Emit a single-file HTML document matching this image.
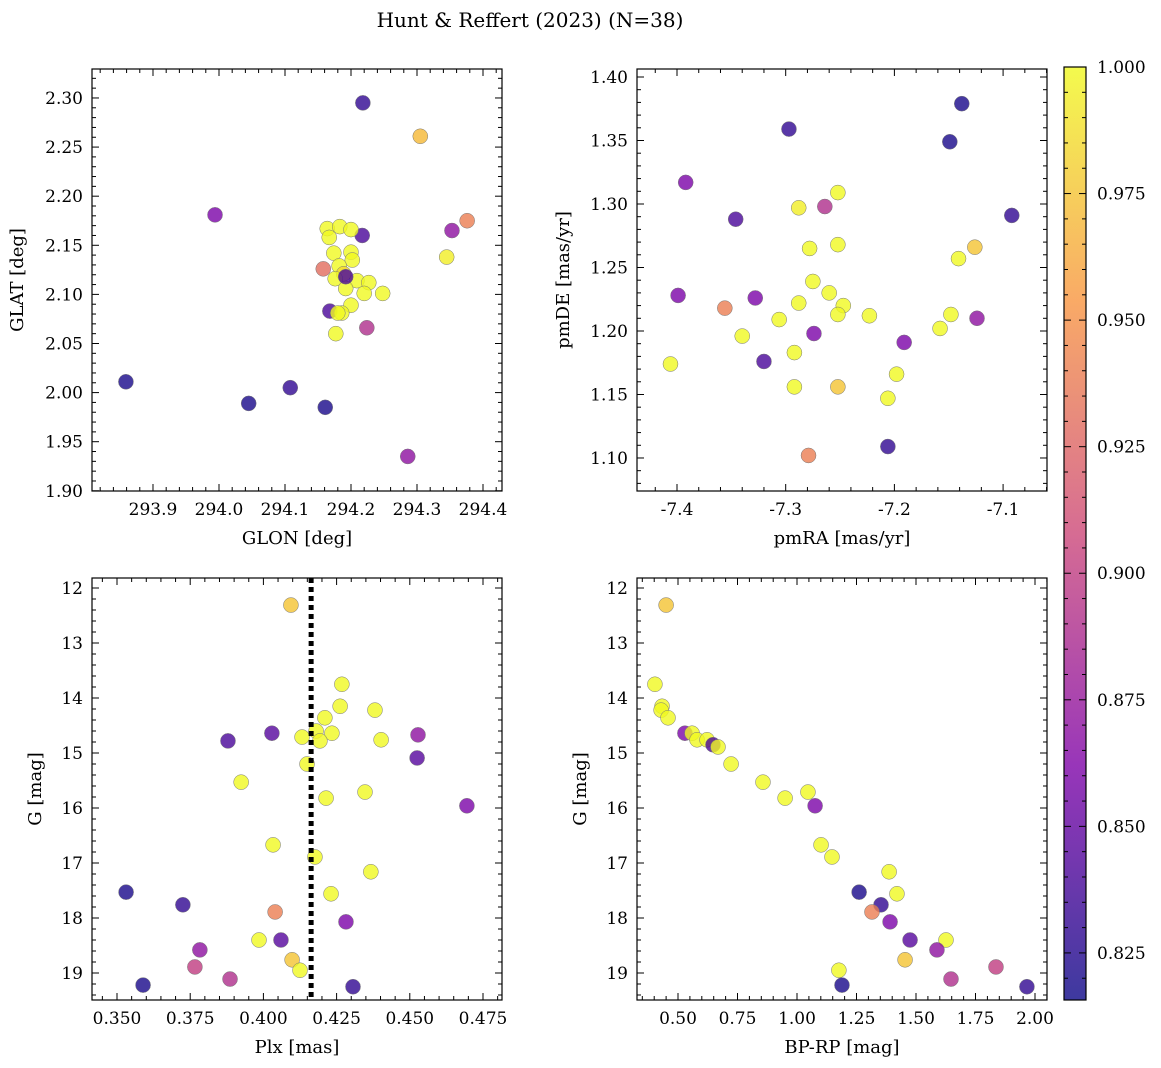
<!DOCTYPE html>
<html><head><meta charset="utf-8">
<style>
html,body{margin:0;padding:0;background:#fff;}
svg{display:block;font-family:"DejaVu Serif","Liberation Serif",serif;}
</style></head>
<body>
<svg id="fig" width="1161" height="1068" viewBox="0 0 1161 1068" xmlns="http://www.w3.org/2000/svg">
<text x="530" y="27" text-anchor="middle" font-size="20">Hunt &amp; Reffert (2023) (N=38)</text>
</svg>
<script>
// Panel 1: GLON vs GLAT
const glon1=[293.859,293.994,294.045,294.108,294.161,294.218,294.305,294.376,294.353,294.345,294.286,294.224,294.217,294.158,294.168,294.164,294.167,294.183,294.200,294.174,294.200,294.202,294.182,294.189,294.176,294.209,294.192,294.227,294.248,294.220,294.200,294.186,294.180,294.177,294.192];
const glat1=[2.011,2.181,1.989,2.005,1.985,2.295,2.261,2.175,2.165,2.138,1.935,2.066,2.160,2.126,2.083,2.167,2.158,2.169,2.166,2.142,2.143,2.135,2.129,2.121,2.116,2.114,2.106,2.112,2.101,2.101,2.089,2.081,2.081,2.060,2.118];
const prob1=[0.82,0.86,0.82,0.83,0.82,0.83,0.97,0.94,0.87,0.995,0.87,0.89,0.84,0.93,0.84,1,1,1,1,1,1,1,1,0.985,1,1,1,1,1,1,1,1,1,1,0.84];
// Panel 2: pmRA vs pmDE
const pmra2=[-7.138,-7.149,-7.092,-7.297,-7.392,-7.346,-7.264,-7.252,-7.288,-7.126,-7.141,-7.278,-7.252,-7.275,-7.399,-7.260,-7.247,-7.252,-7.288,-7.223,-7.356,-7.328,-7.148,-7.158,-7.124,-7.306,-7.340,-7.274,-7.191,-7.320,-7.406,-7.292,-7.198,-7.292,-7.252,-7.206,-7.206,-7.279];
const pmde2=[1.379,1.349,1.291,1.359,1.317,1.288,1.298,1.309,1.297,1.266,1.257,1.265,1.268,1.239,1.228,1.230,1.220,1.213,1.222,1.212,1.218,1.226,1.213,1.202,1.210,1.209,1.196,1.198,1.191,1.176,1.174,1.183,1.166,1.156,1.156,1.147,1.109,1.102];
const prob2=[0.82,0.82,0.83,0.83,0.86,0.84,0.89,1,0.995,0.975,1,1,1,1,0.86,1,1,1,1,1,0.94,0.86,1,1,0.87,1,1,0.86,0.86,0.84,1,1,1,1,0.975,1,0.83,0.94];
// Panel 3: Plx vs G
const plx3=[0.4094,0.4268,0.4262,0.4381,0.4210,0.4180,0.4234,0.4132,0.4193,0.4402,0.4029,0.3879,0.4528,0.4525,0.4149,0.3924,0.4347,0.4214,0.4695,0.4033,0.4176,0.4367,0.4231,0.3531,0.3725,0.4040,0.4282,0.4060,0.3985,0.3783,0.4098,0.4125,0.3766,0.3886,0.3589,0.4306];
const g3=[12.31,13.75,14.15,14.22,14.36,14.60,14.64,14.71,14.78,14.76,14.64,14.78,14.67,15.09,15.20,15.53,15.71,15.82,15.96,16.67,16.89,17.16,17.56,17.53,17.76,17.89,18.07,18.40,18.40,18.58,18.76,18.95,18.89,19.11,19.22,19.25];
const prob3=[0.975,1,1,1,1,1,1,1,1,1,0.845,0.84,0.87,0.845,1,1,1,1,0.86,1,1,1,1,0.82,0.83,0.94,0.86,0.845,1,0.87,0.975,1,0.9,0.89,0.82,0.83];
const plxCut=0.4163;
// Panel 4: BP-RP vs G
const bprp4=[0.450,0.403,0.433,0.429,0.458,0.529,0.559,0.580,0.622,0.647,0.668,0.723,0.857,0.950,1.046,1.076,1.101,1.147,1.387,1.261,1.420,1.353,1.315,1.391,1.475,1.626,1.588,1.454,1.176,1.647,1.836,1.189,1.966];
const g4=[12.31,13.75,14.15,14.22,14.36,14.64,14.64,14.76,14.76,14.85,14.89,15.20,15.53,15.82,15.71,15.96,16.67,16.89,17.16,17.53,17.56,17.76,17.89,18.07,18.40,18.40,18.58,18.76,18.95,19.11,18.89,19.22,19.25];
const prob4=[0.975,1,1,1,1,0.86,1,1,1,0.84,1,1,1,1,1,0.86,1,1,1,0.82,1,0.83,0.94,0.86,0.845,1,0.87,0.975,1,0.89,0.9,0.82,0.83];
// Colorbar
const cbTicks=[0.825,0.850,0.875,0.900,0.925,0.950,0.975,1.000];
const vmin=0.8157, vmax=1.0;

const NS="http://www.w3.org/2000/svg";
const svg=document.getElementById('fig');
function mk(tag,attrs,parent){const e=document.createElementNS(NS,tag);for(const k in attrs)e.setAttribute(k,attrs[k]);(parent||svg).appendChild(e);return e;}
const stops=[[0,[13,8,135]],[0.25,[126,3,168]],[0.5,[204,71,120]],[0.75,[248,149,64]],[1,[240,249,33]]];
function plasma(t){t=Math.max(0,Math.min(1,t));for(let i=0;i<stops.length-1;i++){const a=stops[i],b=stops[i+1];if(t<=b[0]){const f=(t-a[0])/(b[0]-a[0]);const c=a[1].map((v,j)=>Math.round(v+(b[1][j]-v)*f));return `rgb(${c[0]},${c[1]},${c[2]})`;}}return 'rgb(240,249,33)';}
function cmap(p){return plasma((p-vmin)/(vmax-vmin));}

function panel(o){
  const g=mk('g',{});
  
  
  const L=o.box[0],T=o.box[1],R=o.box[2],B=o.box[3];
  const sx=v=>L+(v-o.xr[0])/(o.xr[1]-o.xr[0])*(R-L);
  const sy=v=>o.yinv? T+(v-o.yr[0])/(o.yr[1]-o.yr[0])*(B-T) : B-(v-o.yr[0])/(o.yr[1]-o.yr[0])*(B-T);
  for(let i=0;i<o.x.length;i++){
    const c=mk('circle',{cx:sx(o.x[i]),cy:sy(o.y[i]),r:7.5,fill:cmap(o.p[i]),'fill-opacity':0.8,stroke:'#777','stroke-width':0.5},g);
    
    
  }
  if(o.vline!==undefined){
    const l=mk('line',{x1:sx(o.vline),x2:sx(o.vline),y1:T,y2:B,stroke:'#000','stroke-width':5,'stroke-dasharray':'5,4'},g);
    
    
  }
  const eps=1e-9;
  function ticksAxis(rng,step,nm,cb){const s=Math.ceil(rng[0]/(step/nm)-eps);const e=Math.floor(rng[1]/(step/nm)+eps);for(let k=s;k<=e;k++){const v=k*step/nm;cb(v,Math.abs(k%nm)===0);}}
  ticksAxis(o.xr,o.xstep,o.xminor,(v,maj)=>{const X=sx(v);const len=maj?7:4;
    mk('line',{x1:X,x2:X,y1:B,y2:B-len,stroke:'#000','stroke-width':1},g);
    mk('line',{x1:X,x2:X,y1:T,y2:T+len,stroke:'#000','stroke-width':1},g);
    if(maj){const t=mk('text',{x:X,y:B+24,'text-anchor':'middle','font-size':17},g);t.textContent=v.toFixed(o.xdec);
      }
  });
  ticksAxis(o.yr,o.ystep,o.yminor,(v,maj)=>{const Y=sy(v);const len=maj?7:4;
    mk('line',{x1:L,x2:L+len,y1:Y,y2:Y,stroke:'#000','stroke-width':1},g);
    mk('line',{x1:R,x2:R-len,y1:Y,y2:Y,stroke:'#000','stroke-width':1},g);
    if(maj){const t=mk('text',{x:L-9,y:Y+6,'text-anchor':'end','font-size':17},g);t.textContent=v.toFixed(o.ydec);
      }
  });
  mk('rect',{x:L,y:T,width:R-L,height:B-T,fill:'none',stroke:'#000','stroke-width':1.2},g);
  const xt=mk('text',{x:(L+R)/2,y:B+53,'text-anchor':'middle','font-size':18},g);xt.textContent=o.xlabel;
  
  const yx=o.ylx, yc=(T+B)/2;
  const yt=mk('text',{x:yx,y:yc,'text-anchor':'middle','font-size':18,transform:`rotate(-90 ${yx} ${yc})`},g);yt.textContent=o.ylabel;
  
}

panel({name:'glon-glat-panel',box:[92,69,502,491],xr:[293.8076,294.4288],yr:[1.8998,2.3295],x:glon1,y:glat1,p:prob1,xstep:0.1,xminor:5,ystep:0.05,yminor:5,xdec:1,ydec:2,xlabel:'GLON [deg]',ylabel:'GLAT [deg]',ylx:23});
panel({name:'pm-panel',box:[637,69,1047,491],xr:[-7.4368,-7.0596],yr:[1.074,1.4063],x:pmra2,y:pmde2,p:prob2,xstep:0.1,xminor:5,ystep:0.05,yminor:5,xdec:1,ydec:2,xlabel:'pmRA [mas/yr]',ylabel:'pmDE [mas/yr]',ylx:569});
panel({name:'plx-g-panel',box:[92,578,502,1000],xr:[0.34146,0.48149],yr:[11.818,19.491],yinv:true,x:plx3,y:g3,p:prob3,vline:plxCut,xstep:0.025,xminor:5,ystep:1,yminor:5,xdec:3,ydec:0,xlabel:'Plx [mas]',ylabel:'G [mag]',ylx:41});
panel({name:'cmd-panel',box:[637,578,1047,1000],xr:[0.3277,2.0504],yr:[11.818,19.491],yinv:true,x:bprp4,y:g4,p:prob4,xstep:0.25,xminor:5,ystep:1,yminor:5,xdec:2,ydec:0,xlabel:'BP-RP [mag]',ylabel:'G [mag]',ylx:586});

(function(){
  const g=mk('g',{});
  
  
  const L=1064,R=1086,T=67,B=1000;
  const defs=mk('defs',{},g);
  const lg=mk('linearGradient',{id:'cbg',x1:0,y1:1,x2:0,y2:0},defs);
  for(let i=0;i<=20;i++){mk('stop',{offset:i/20,'stop-color':plasma(i/20),'stop-opacity':0.8},lg);}
  mk('rect',{x:L,y:T,width:R-L,height:B-T,fill:'url(#cbg)',stroke:'#000','stroke-width':1.2},g);
  const sy=v=>B-(v-vmin)/(vmax-vmin)*(B-T);
  for(let k=Math.ceil(vmin/0.005);k<=Math.floor(vmax/0.005+1e-9);k++){const v=k*0.005;const maj=k%5===0;const Y=sy(v);
    mk('line',{x1:R,x2:R-(maj?7:4),y1:Y,y2:Y,stroke:'#000','stroke-width':1},g);
    mk('line',{x1:L,x2:L+(maj?7:4),y1:Y,y2:Y,stroke:'#000','stroke-width':1},g);}
  cbTicks.forEach(v=>{const t=mk('text',{x:1097,y:sy(v)+6,'font-size':17},g);t.textContent=v.toFixed(3);
    });
})();
</script>
</body></html>
